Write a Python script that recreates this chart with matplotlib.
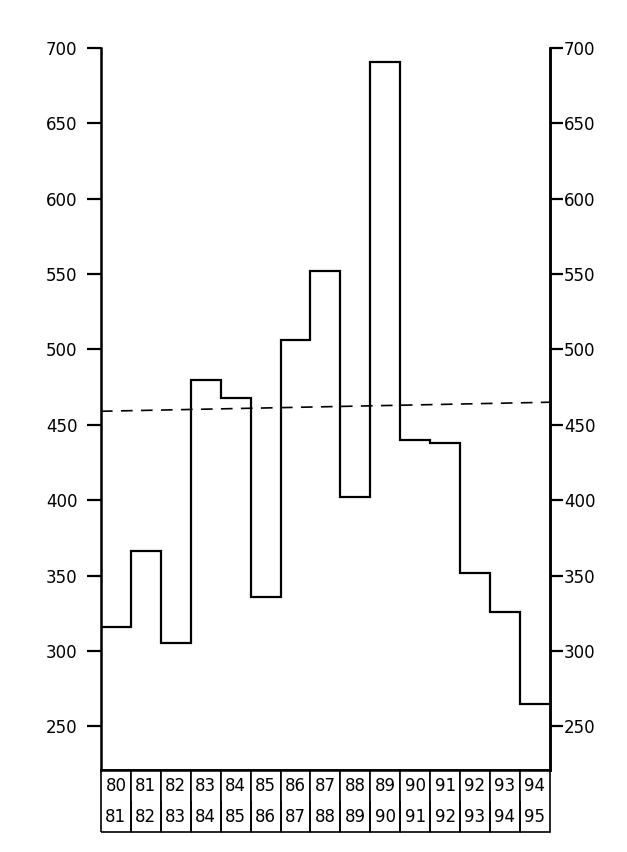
import numpy as np
import matplotlib
matplotlib.use("Agg")
import matplotlib.pyplot as plt

# seasons 80/81 ... 94/95
start_years = ['80', '81', '82', '83', '84', '85', '86', '87', '88', '89', '90', '91', '92', '93', '94']
end_years = ['81', '82', '83', '84', '85', '86', '87', '88', '89', '90', '91', '92', '93', '94', '95']
values = [316, 366, 305, 480, 468, 336, 506, 552, 402, 691, 440, 438, 352, 326, 265]
trend = [459, 465]  # dashed line, left and right end
yticks = [250, 300, 350, 400, 450, 500, 550, 600, 650, 700]

plt.rcParams['font.family'] = ['DejaVu Sans']

fig = plt.figure(figsize=(6.27, 8.52), dpi=100)
ax = fig.add_axes([0.161, 0.0962, 0.716, 0.8475])

edges = np.arange(len(values) + 1)
ax.stairs(values, edges, baseline=None, color='black', linewidth=1.6)
ax.plot([edges[0], edges[-1]], trend, color='black', linewidth=1.2,
        linestyle=(0, (7, 5)))

ax.set_xlim(edges[0], edges[-1])
ax.set_ylim(221, 700)
ax.spines['top'].set_visible(False)
for s in ['left', 'right', 'bottom']:
    ax.spines[s].set_linewidth(1.8)
ax.set_xticks([])
ax.set_yticks(yticks)
ax.tick_params(axis='y', direction='out', length=10, width=1.6, pad=7, labelsize=12)

ax2 = ax.twinx()
ax2.set_ylim(ax.get_ylim())
ax2.set_yticks(yticks)
ax2.spines['top'].set_visible(False)
ax2.spines['right'].set_linewidth(1.8)
ax2.tick_params(axis='y', direction='out', length=9, width=1.6, pad=1, labelsize=12)

tbl = ax.table(cellText=[start_years, end_years], cellLoc='center',
               bbox=[0, -0.086, 1, 0.086])
tbl.auto_set_font_size(False)
tbl.set_fontsize(12)
for (r, c), cell in tbl.get_celld().items():
    cell.set_linewidth(1.2)
    cell.visible_edges = 'LRT' if r == 0 else 'LRB'

fig.savefig('out.png', dpi=100)
